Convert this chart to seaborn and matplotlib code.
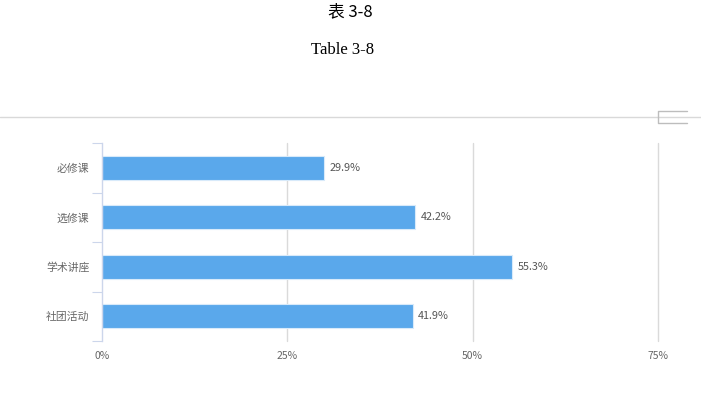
import matplotlib
matplotlib.use("Agg")
import matplotlib.pyplot as plt
import seaborn as sns
import pandas as pd

categories = ["必修课", "选修课", "学术讲座", "社团活动"]
values = [29.9, 42.2, 55.3, 41.9]
x_ticks = [0, 25, 50, 75]
x_tick_labels = ["0%", "25%", "50%", "75%"]

sns.set_theme(style="white")
plt.rcParams["font.family"] = ["Noto Sans CJK SC", "DejaVu Sans"]

df = pd.DataFrame({"category": categories, "value": values})

fig = plt.figure(figsize=(7.01, 3.99), dpi=100)
ax = fig.add_axes([102 / 701, 1 - 341 / 399, 556 / 701, 198 / 399])

sns.barplot(data=df, x="value", y="category", orient="h", color="#5aa8eb",
            saturation=1, width=0.49, edgecolor="#d8eafa", linewidth=0.8, ax=ax)

ax.set_xlim(0, 75)
ax.set_xticks(x_ticks)
ax.set_xticklabels(x_tick_labels)
ax.set_xlabel("")
ax.set_ylabel("")

# category boundaries get the tick marks
ax.set_yticks([-0.5, 0.5, 1.5, 2.5, 3.5], minor=False)
ax.set_yticklabels([])
ax.set_yticks(range(len(categories)), minor=True)
ax.set_yticklabels(categories, minor=True)
ax.set_ylim(3.5, -0.5)
ax.tick_params(axis="y", which="major", length=7, width=0.8, color="#ccd6eb", left=True)
ax.tick_params(axis="y", which="minor", length=0, pad=9, labelsize=7.8, labelcolor="#666666")
ax.tick_params(axis="x", length=0, pad=7, labelsize=7.5, labelcolor="#666666")

for x in x_ticks[1:]:
    ax.axvline(x, color="#dadada", linewidth=1, zorder=0, clip_on=False)

for side in ["top", "right", "bottom"]:
    ax.spines[side].set_visible(False)
ax.spines["left"].set_color("#ccd6eb")
ax.spines["left"].set_linewidth(1)

for cont in ax.containers:
    ax.bar_label(cont, labels=[f"{v}%" for v in values], padding=4,
                 fontsize=7.8, color="#555555")

fig.text(350 / 701, 1 - 12 / 399, "表 3-8", ha="center", va="center", fontsize=12, color="black")
fig.text(343 / 701, 1 - 50 / 399, "Table 3-8", ha="center", va="center", fontsize=12,
         family="Liberation Serif", color="black")

# separator line and small icon at the top right
fig.add_artist(plt.Line2D([0, 1], [1 - 117 / 399] * 2, color="#d9d9d9", linewidth=1))
fig.add_artist(plt.Line2D([687 / 701, 658 / 701, 658 / 701, 687 / 701],
                          [1 - 111 / 399, 1 - 111 / 399, 1 - 123 / 399, 1 - 123 / 399],
                          color="#bdbdbd", linewidth=1))

fig.savefig("out.png", dpi=100)
